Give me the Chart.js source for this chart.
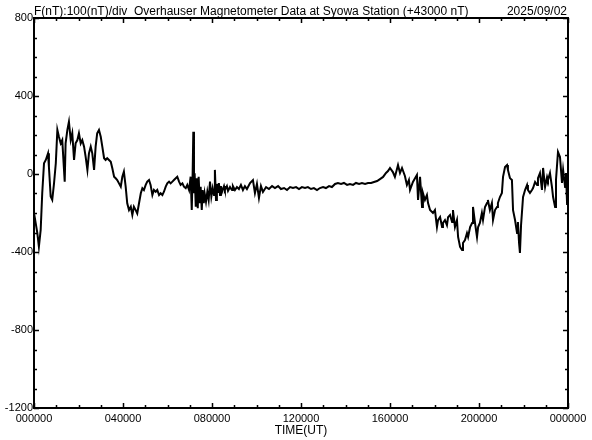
<!DOCTYPE html>
<html><head><meta charset="utf-8">
<script src="https://cdn.jsdelivr.net/npm/chart.js@4.4.1/dist/chart.umd.min.js"></script>
<style>html,body{margin:0;padding:0;background:#fff;} #wrap{width:592px;height:440px;position:relative;}</style>
</head><body><div id="wrap"><canvas id="c" width="592" height="440"></canvas></div>
<script>
const titleText = 'F(nT):100(nT)/div  Overhauser Magnetometer Data at Syowa Station (+43000 nT)';
const dateText = '2025/09/02';
const xAxisTitle = 'TIME(UT)';
const xTickHours = [0,4,8,12,16,20,24];
const xTickLabels = ['000000','040000','080000','120000','160000','200000','000000'];
const yTickValues = [800,400,0,-400,-800,-1200];
const yTickLabels = ['800','400','0','-400','-800','-1200'];

// 00h - 08h
const timesNight = [
0.00,0.15,0.22,0.30,0.37,0.45,0.53,0.63,0.67,0.75,
0.82,0.90,0.98,1.05,1.12,1.20,1.27,1.38,1.42,1.50,
1.57,1.65,1.72,1.80,1.87,1.95,2.02,2.10,2.17,2.25,
2.32,2.40,2.47,2.55,2.62,2.70,2.77,2.84,2.92,3.00,
3.07,3.15,3.22,3.29,3.37,3.45,3.52,3.60,3.67,3.74,
3.82,3.90,3.97,4.04,4.12,4.19,4.27,4.35,4.42,4.49,
4.57,4.64,4.72,4.80,4.87,4.94,5.02,5.09,5.17,5.24,
5.32,5.39,5.47,5.54,5.62,5.69,5.77,5.84,5.92,5.99,
6.07,6.14,6.22,6.29,6.37,6.44,6.52,6.59,6.67,6.74,
6.82,6.89,6.97,7.04,7.09,7.13,7.16,7.19,7.22,7.27,
7.31,7.36,7.40,7.45,7.49,7.54,7.58,7.63,7.67,7.73,
7.79,7.85,7.91,7.97,8.03];
const valuesNight = [
-200,-303,-373,-287,-99,55,72,106,37,-116,
-133,-48,55,226,191,157,174,-39,157,226,
268,174,209,72,157,174,209,157,174,140,
89,21,106,140,106,21,140,209,226,191,
140,81,72,81,72,63,29,-14,-22,-31,
-48,-65,-14,12,-65,-150,-185,-168,-210,-168,
-185,-202,-150,-99,-73,-82,-56,-39,-31,-56,
-108,-82,-91,-82,-108,-99,-108,-91,-65,-48,
-39,-48,-39,-31,-22,-14,-39,-56,-48,-65,
-73,-56,-82,-14,-185,4,217,-99,4,-168,
-22,-176,-14,-150,-65,-185,-82,-150,-99,-142,
-91,-133,-39,-116,-73];

// 08h - 16h
const timesDay = [
8.09,8.13,8.18,8.22,8.27,8.31,8.36,8.40,8.45,8.54,
8.58,8.67,8.72,8.81,8.90,8.94,9.03,9.12,9.21,9.30,
9.39,9.48,9.57,9.71,9.84,9.93,10.02,10.11,10.20,10.29,
10.43,10.56,10.70,10.83,10.97,11.10,11.24,11.37,11.51,11.64,
11.78,11.91,12.04,12.18,12.31,12.45,12.58,12.72,12.85,12.99,
13.12,13.26,13.39,13.53,13.66,13.80,13.93,14.07,14.20,14.34,
14.47,14.61,14.74,14.88,15.01,15.15,15.28,15.42,15.55,15.69,
15.82,15.91,16.00];
const valuesDay = [
-108,21,-133,-51,-92,-46,-108,-62,-92,-62,
-82,-62,-87,-67,-82,-62,-82,-67,-77,-56,
-82,-62,-77,-46,-31,-98,-51,-123,-62,-92,
-67,-77,-62,-72,-62,-77,-72,-82,-67,-72,
-67,-77,-67,-72,-67,-77,-72,-82,-72,-67,
-72,-62,-67,-51,-46,-51,-46,-56,-51,-56,
-46,-51,-46,-51,-46,-46,-41,-36,-26,-15,
5,15,31];

// 16h - 24h
const timesEvening = [
16.13,16.22,16.36,16.45,16.54,16.67,16.76,16.85,16.90,17.03,
17.21,17.26,17.35,17.44,17.48,17.57,17.66,17.71,17.80,17.93,
18.02,18.11,18.16,18.25,18.34,18.38,18.47,18.56,18.61,18.70,
18.79,18.83,18.92,19.01,19.06,19.15,19.24,19.28,19.37,19.46,
19.51,19.60,19.69,19.73,19.82,19.91,19.96,20.04,20.13,20.18,
20.27,20.36,20.40,20.49,20.58,20.63,20.72,20.81,20.85,20.94,
21.03,21.08,21.17,21.26,21.30,21.39,21.48,21.53,21.62,21.71,
21.75,21.80,21.84,21.89,21.98,22.07,22.16,22.20,22.29,22.38,
22.43,22.52,22.61,22.65,22.74,22.83,22.88,22.97,23.06,23.10,
23.19,23.28,23.33,23.42,23.46,23.55,23.64,23.73,23.78,23.87,
23.91,23.96,24.00];
const valuesEvening = [
10,-15,46,5,31,-10,-56,-31,-82,-41,
-5,-133,-15,-169,-97,-133,-108,-149,-185,-200,
-185,-272,-236,-221,-272,-251,-236,-262,-221,-210,
-246,-185,-272,-236,-323,-374,-390,-354,-339,-303,
-323,-272,-251,-169,-251,-323,-272,-251,-200,-236,
-169,-149,-133,-185,-149,-236,-185,-169,-149,-118,
-97,-15,36,46,21,-21,-31,-185,-236,-303,
-246,-354,-405,-262,-118,-82,-56,-82,-97,-82,
-72,-41,-56,-21,5,-82,31,-67,-15,-31,
5,-67,-118,-169,-31,113,87,-46,21,-67,
5,-159,-31];

const allTimes = timesNight.concat(timesDay, timesEvening);
const allValues = valuesNight.concat(valuesDay, valuesEvening);
const points = allTimes.map((t, i) => ({x: t, y: allValues[i]}));

Chart.defaults.font.family = "'Liberation Sans', Arial, sans-serif";
Chart.defaults.color = '#000';

const framePlugin = {
  id: 'frame',
  afterDraw(chart) {
    const ctx = chart.ctx;
    const a = chart.chartArea;
    const xs = chart.scales.x, ys = chart.scales.y;
    ctx.save();
    ctx.strokeStyle = '#000';
    ctx.lineWidth = 2;
    ctx.strokeRect(a.left, a.top, a.right - a.left, a.bottom - a.top);
    ctx.lineWidth = 1.5;
    ctx.beginPath();
    for (let h = xs.min; h <= xs.max; h += 1) {
      const px = Math.round(xs.getPixelForValue(h)) + 0.5;
      const len = (h % 4 === 0) ? 5 : 3;
      ctx.moveTo(px, a.bottom); ctx.lineTo(px, a.bottom - len);
      ctx.moveTo(px, a.top); ctx.lineTo(px, a.top + len);
    }
    for (let v = ys.min; v <= ys.max; v += 100) {
      const py = Math.round(ys.getPixelForValue(v)) + 0.5;
      const len = (v % 400 === 0) ? 5 : 3;
      ctx.moveTo(a.left, py); ctx.lineTo(a.left + len, py);
      ctx.moveTo(a.right, py); ctx.lineTo(a.right - len, py);
    }
    ctx.stroke();
    ctx.fillStyle = '#000';
    ctx.font = "12px 'Liberation Sans', Arial, sans-serif";
    ctx.textBaseline = 'alphabetic';
    ctx.textAlign = 'left';
    ctx.fillText(titleText, a.left, 15);
    ctx.textAlign = 'right';
    ctx.fillText(dateText, a.right - 1, 15);
    ctx.restore();
  }
};

new Chart(document.getElementById('c'), {
  type: 'line',
  data: { datasets: [{ data: points, borderColor: '#000', borderWidth: 2, pointRadius: 0, tension: 0, fill: false }] },
  options: {
    responsive: false,
    animation: false,
    devicePixelRatio: 1,
    layout: { padding: { top: 18, right: 24, bottom: 0, left: 0 } },
    plugins: { legend: { display: false }, tooltip: { enabled: false }, title: { display: false } },
    scales: {
      x: {
        type: 'linear', min: 0, max: 24,
        afterBuildTicks(scale) { scale.ticks = xTickHours.map(v => ({ value: v })); },
        afterFit(scale) { scale.height = 32; },
        grid: { display: false, drawTicks: false },
        border: { display: false },
        ticks: { autoSkip: false, maxRotation: 0, padding: 4, font: { size: 11 }, color: '#000',
          callback: (v) => xTickLabels[xTickHours.indexOf(v)] },
        title: { display: true, text: xAxisTitle, font: { size: 12 }, color: '#000', padding: { top: 0, bottom: 2 } }
      },
      y: {
        type: 'linear', min: -1200, max: 800,
        afterBuildTicks(scale) { scale.ticks = yTickValues.map(v => ({ value: v })); },
        afterFit(scale) { scale.width = 34; },
        grid: { display: false, drawTicks: false },
        border: { display: false },
        ticks: { autoSkip: false, padding: 1, font: { size: 11 }, color: '#000',
          callback: (v) => yTickLabels[yTickValues.indexOf(v)] }
      }
    }
  },
  plugins: [framePlugin]
});
</script>
</body></html>
